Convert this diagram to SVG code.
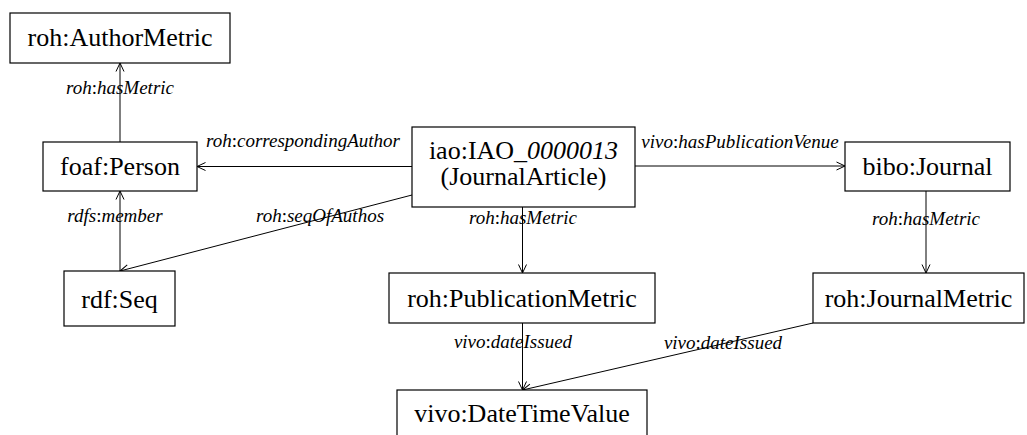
<svg xmlns="http://www.w3.org/2000/svg" width="1027" height="435" viewBox="0 0 1027 435" font-family="Liberation Serif, Times New Roman, serif">
<style>
.box{fill:#fff;stroke:#000;stroke-width:1.2}
.nt{font-size:26px;fill:#000;text-anchor:middle}
.lb{font-size:19px;font-style:italic;fill:#000;text-anchor:middle}
.up{font-style:normal}
.ed{stroke:#000;stroke-width:1;fill:none;marker-end:url(#arr)}
</style>
<defs>
<marker id="arr" viewBox="0 0 10 10" refX="9.5" refY="5" markerWidth="10" markerHeight="10" markerUnits="userSpaceOnUse" orient="auto">
<path d="M1,1 L9.5,5 L1,9" fill="none" stroke="#000" stroke-width="1"/>
</marker>
</defs>
<rect width="1027" height="435" fill="#fff"/>
<g id="connectors">
<line class="ed" x1="120" y1="142" x2="120" y2="63"/>
<line class="ed" x1="412" y1="166.5" x2="197" y2="166.5"/>
<line class="ed" x1="412" y1="195" x2="120" y2="271"/>
<line class="ed" x1="120" y1="271" x2="120" y2="191"/>
<line class="ed" x1="635" y1="166" x2="845" y2="166"/>
<line class="ed" x1="926" y1="191" x2="926" y2="273"/>
<line class="ed" x1="522.5" y1="207" x2="522.5" y2="273"/>
<line class="ed" x1="522.5" y1="323" x2="522.5" y2="390"/>
<line class="ed" x1="813" y1="323" x2="522.5" y2="390"/>
<text class="lb" x="120" y="94">roh<tspan class="up">:</tspan>hasMetric</text>
<text class="lb" x="303" y="147">roh<tspan class="up">:</tspan>correspondingAuthor</text>
<text class="lb" x="320" y="222">roh<tspan class="up">:</tspan>seqOfAuthos</text>
<text class="lb" x="115" y="222">rdfs<tspan class="up">:</tspan>member</text>
<text class="lb" x="740" y="148">vivo<tspan class="up">:</tspan>hasPublicationVenue</text>
<text class="lb" x="926" y="225">roh<tspan class="up">:</tspan>hasMetric</text>
<text class="lb" x="523" y="224">roh<tspan class="up">:</tspan>hasMetric</text>
<text class="lb" x="513" y="348">vivo<tspan class="up">:</tspan>dateIssued</text>
<text class="lb" x="723" y="349">vivo<tspan class="up">:</tspan>dateIssued</text>
</g>
<g id="n-authormetric">
<rect class="box" x="10" y="13" width="220" height="50"/>
<text class="nt" x="120" y="46">roh:AuthorMetric</text>
</g>
<g id="n-person">
<rect class="box" x="43" y="142" width="154" height="49"/>
<text class="nt" x="120" y="175">foaf:Person</text>
</g>
<g id="n-article">
<rect class="box" x="412" y="127" width="223" height="80"/>
<text class="nt" x="523.5" y="159">iao:IAO_<tspan font-style="italic">0000013</tspan></text>
<text class="nt" x="523.5" y="185">(JournalArticle)</text>
</g>
<g id="n-journal">
<rect class="box" x="845" y="142" width="165" height="49"/>
<text class="nt" x="927.5" y="175">bibo:Journal</text>
</g>
<g id="n-seq">
<rect class="box" x="64" y="271" width="111" height="55"/>
<text class="nt" x="119.5" y="308">rdf:Seq</text>
</g>
<g id="n-pubmetric">
<rect class="box" x="389" y="273" width="266" height="50"/>
<text class="nt" x="522" y="307">roh:PublicationMetric</text>
</g>
<g id="n-journalmetric">
<rect class="box" x="813" y="273" width="211" height="50"/>
<text class="nt" x="918.5" y="307">roh:JournalMetric</text>
</g>
<g id="n-datetime">
<rect class="box" x="397" y="390" width="250" height="55"/>
<text class="nt" x="522" y="422">vivo:DateTimeValue</text>
</g>
</svg>
